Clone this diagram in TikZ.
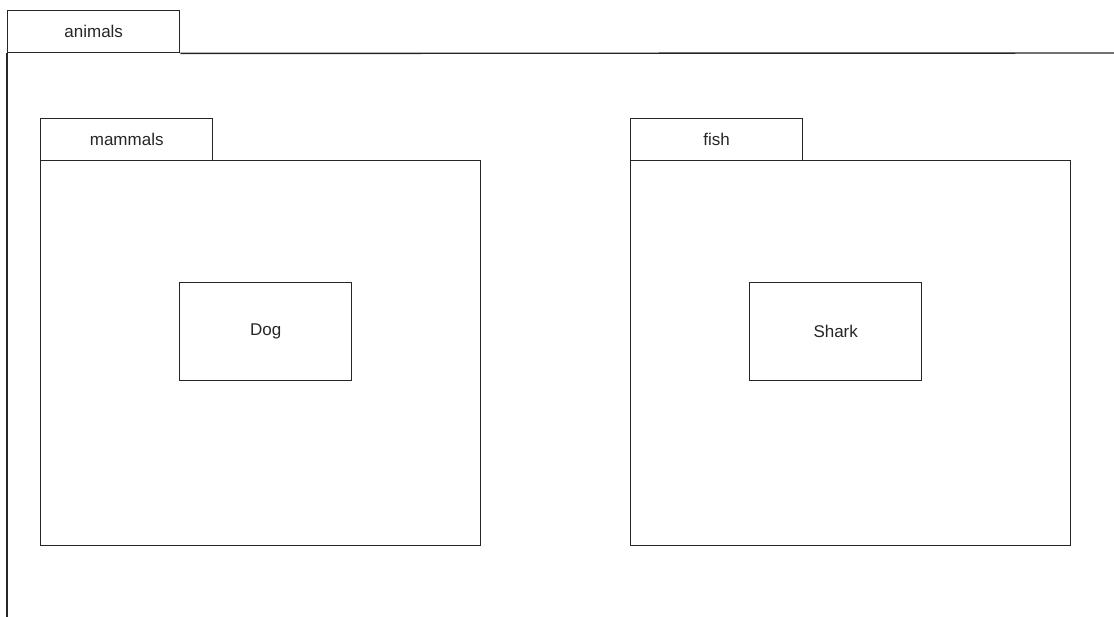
\documentclass[tikz,border=0pt]{standalone}
\usepackage{fontspec}
\setmainfont{Liberation Sans}
\tikzset{
    pkgtab/.style={draw, anchor=north west, inner sep=0pt, minimum width=172pt, minimum height=42pt, font=\fontsize{17}{20}\selectfont},
    pkgbody/.style={draw, anchor=north west, inner sep=0pt, minimum width=440pt, minimum height=385pt},
    classbox/.style={draw, anchor=north west, inner sep=0pt, minimum width=172pt, minimum height=98pt, font=\fontsize{17}{20}\selectfont}
}
\begin{document}
\begin{tikzpicture}[x=1pt, y=-1pt, line width=1.4pt, color=black!85]
    % Fix the page size
    \useasboundingbox (0,0) rectangle (1114,616);
    \clip (0,0) rectangle (1114,616);

    % Add the outer package animals
    \node[pkgtab] (animalstab) at (7,10) {animals};
    \draw (animalstab.south east) -- (1130,53);
    \draw (animalstab.south west) -- (7,640);

    % Add the package mammals
    \node[pkgtab] (mammalstab) at (40,118) {mammals};
    \node[pkgbody] (mammalsbody) at (40,160) {};
    % Add the class Dog
    \node[classbox] (dog) at (179,282) {Dog};

    % Add the package fish
    \node[pkgtab] (fishtab) at (630,118) {fish};
    \node[pkgbody] (fishbody) at (630,160) {};
    % Add the class Shark
    \node[classbox] (shark) at (749,282) {Shark};
\end{tikzpicture}
\end{document}
